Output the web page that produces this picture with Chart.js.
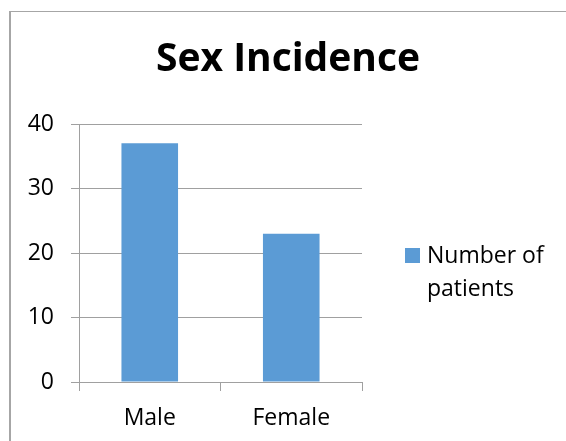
<!DOCTYPE html>
<html>
<head>
<meta charset="utf-8">
<script src="https://cdn.jsdelivr.net/npm/chart.js@4.4.0/dist/chart.umd.min.js"></script>
<style>
  html, body { margin: 0; padding: 0; background: #fff; overflow: hidden; }
  #wrap { position: relative; width: 566px; height: 441px; overflow: hidden; }
  .edge { position: absolute; background: #a6a6a6; }
  #edgeTop { left: 9px; top: 11px; width: 557px; height: 1px; }
  #edgeLeft { left: 9px; top: 11px; width: 2px; height: 430px; }
  canvas { position: absolute; left: 0; top: 0; }
</style>
</head>
<body>
<div id="wrap">
  <div class="edge" id="edgeTop"></div>
  <div class="edge" id="edgeLeft"></div>
  <canvas id="myChart" width="566" height="441"></canvas>
</div>
<script>
var chartTitle = 'Sex Incidence';
var categories = ['Male', 'Female'];
var seriesLabel = 'Number of patients';
var legendLines = ['Number of', 'patients'];
var patients = [37, 23];
var yTicks = [0, 10, 20, 30, 40];

var barColor = '#5b9bd5';
var lineColor = '#a0a0a0';
var labelFont = { family: '"Open Sans"', size: 23 };

// title and the wrapped legend on the right are drawn here
var decor = {
  id: 'decor',
  afterDraw: function(chart) {
    var ctx = chart.ctx;
    var area = chart.chartArea;
    ctx.save();
    ctx.fillStyle = '#000';
    ctx.textAlign = 'center';
    ctx.textBaseline = 'middle';
    ctx.font = 'bold 39px "Open Sans"';
    ctx.fillText(chartTitle, 288, 60);

    var lx = area.right + 43;
    var ly = 248;
    ctx.fillStyle = barColor;
    ctx.fillRect(lx, ly, 15, 15);
    ctx.fillStyle = '#000';
    ctx.textAlign = 'left';
    ctx.font = '23px "Open Sans"';
    for (var i = 0; i < legendLines.length; i++) {
      ctx.fillText(legendLines[i], lx + 22, ly + 8 + i * 33);
    }
    ctx.restore();
  }
};

var ctx = document.getElementById('myChart').getContext('2d');
var myChart = new Chart(ctx, {
  type: 'bar',
  data: {
    labels: categories,
    datasets: [{
      label: seriesLabel,
      data: patients,
      backgroundColor: barColor,
      barPercentage: 0.4,
      categoryPercentage: 1
    }]
  },
  options: {
    responsive: false,
    devicePixelRatio: 1,
    animation: false,
    layout: { padding: { top: 124, left: 10, right: 204, bottom: 0 } },
    plugins: {
      legend: { display: false },
      title: { display: false },
      tooltip: { enabled: false }
    },
    scales: {
      x: {
        grid: { drawOnChartArea: false, drawTicks: true, tickLength: 9, color: lineColor },
        border: { color: lineColor, width: 1 },
        ticks: { font: labelFont, color: '#000', padding: 14 },
        afterFit: function(scale) { scale.height = 59; }
      },
      y: {
        min: 0,
        max: 40,
        grid: { color: lineColor, tickLength: 8 },
        border: { color: lineColor, width: 1 },
        ticks: { font: labelFont, color: '#000', padding: 17 },
        afterBuildTicks: function(scale) {
          scale.ticks = yTicks.map(function(v) { return { value: v }; });
        },
        afterFit: function(scale) { scale.width = 69; }
      }
    }
  },
  plugins: [decor]
});
</script>
</body>
</html>
